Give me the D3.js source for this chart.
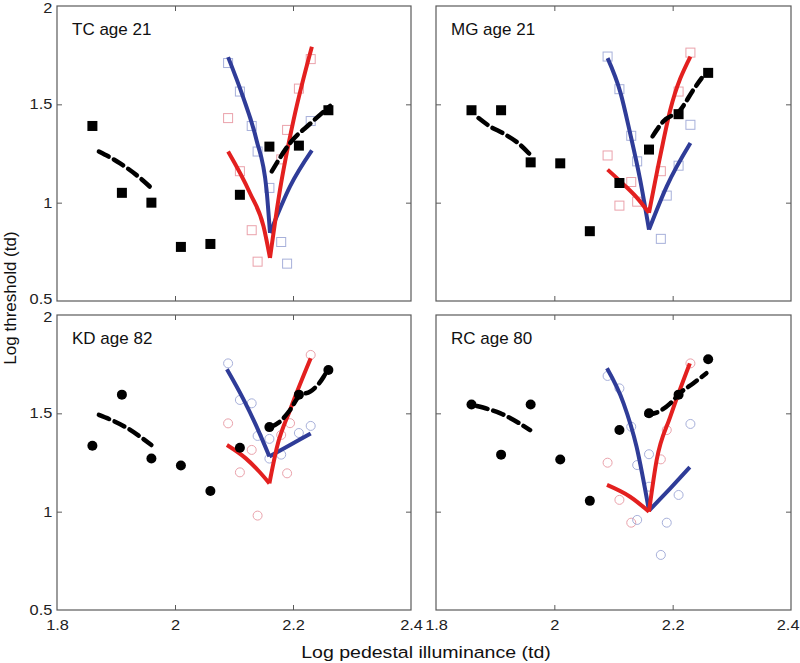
<!DOCTYPE html>
<html>
<head>
<meta charset="utf-8">
<script src="https://cdn.jsdelivr.net/npm/d3@7"></script>
<style>
  body { margin: 0; background: #fff; }
  svg { display: block; font-family: "Liberation Sans", Arial, sans-serif; }
</style>
</head>
<body>
<svg id="chart" width="800" height="663"></svg>
<script>
// ---------------- DATA ----------------
const subjects = ["TC age 21", "MG age 21", "KD age 82", "RC age 80"];
const markerShape = ["square", "square", "circle", "circle"];
const pedestal = [1.86, 1.91, 1.96, 2.01, 2.06, 2.11, 2.16, 2.21, 2.26];
const xTicks = [1.8, 2, 2.2, 2.4];
const yTicks = [0.5, 1, 1.5, 2];

// black (filled) thresholds
const tcBlack = [1.39, 1.05, 1.0, 0.775, 0.79, 1.04, 1.285, 1.29, 1.47];
const mgBlack = [1.47, 1.47, 1.205, 1.20, 0.855, 1.10, 1.27, 1.45, 1.66];
const kdBlack = [1.335, 1.595, 1.27, 1.235, 1.105, 1.325, 1.43, 1.595, 1.72];
const rcBlack = [1.545, 1.29, 1.545, 1.265, 1.055, 1.415, 1.50, 1.595, 1.775];

// dashed fits (left and right segments)
const tcDashL = {x: [1.871, 1.907, 1.941, 1.964], y: [1.26, 1.20, 1.125, 1.063]};
const tcDashR = {x: [2.164, 2.195, 2.23, 2.263], y: [1.159, 1.303, 1.404, 1.492]};
const mgDashL = {x: [1.872, 1.89, 1.915, 1.94, 1.962], y: [1.43, 1.39, 1.35, 1.30, 1.235]};
const mgDashR = {x: [2.166, 2.184, 2.213, 2.235, 2.249], y: [1.337, 1.413, 1.472, 1.574, 1.633]};
const kdDashL = {x: [1.871, 1.915, 1.96], y: [1.492, 1.432, 1.339]};
const kdDashR = {x: [2.161, 2.178, 2.195, 2.212, 2.229, 2.252, 2.26], y: [1.429, 1.458, 1.517, 1.593, 1.61, 1.686, 1.729]};
const rcDashL = {x: [1.869, 1.909, 1.959], y: [1.537, 1.50, 1.415]};
const rcDashR = {x: [2.156, 2.176, 2.196, 2.212, 2.235, 2.257], y: [1.492, 1.508, 1.551, 1.602, 1.653, 1.704]};

// blue model curves (left branch, right branch)
const tcBlueL = {x: [2.09, 2.115, 2.138, 2.155, 2.161], y: [1.74, 1.54, 1.32, 1.07, 0.846]};
const tcBlueR = {x: [2.161, 2.195, 2.232], y: [0.846, 1.083, 1.266]};
const mgBlueL = {x: [2.09, 2.112, 2.128, 2.145, 2.16], y: [1.735, 1.557, 1.354, 1.117, 0.863]};
const mgBlueR = {x: [2.16, 2.19, 2.23], y: [0.863, 1.083, 1.303]};
const kdBlueL = {x: [2.088, 2.115, 2.137, 2.16], y: [1.724, 1.577, 1.441, 1.28]};
const kdBlueR = {x: [2.16, 2.195, 2.23], y: [1.28, 1.339, 1.398]};
const rcBlueL = {x: [2.089, 2.117, 2.139, 2.16], y: [1.729, 1.551, 1.33, 1.005]};
const rcBlueR = {x: [2.16, 2.196, 2.229], y: [1.005, 1.119, 1.226]};

// red model curves (left branch, right branch)
const tcRedL = {x: [2.09, 2.127, 2.15, 2.161], y: [1.26, 1.049, 0.88, 0.719]};
const tcRedR = {x: [2.161, 2.178, 2.201, 2.232], y: [0.719, 1.066, 1.421, 1.793]};
const mgRedL = {x: [2.09, 2.117, 2.142, 2.16], y: [1.168, 1.093, 1.017, 0.948]};
const mgRedR = {x: [2.16, 2.18, 2.196, 2.23], y: [0.948, 1.252, 1.472, 1.743]};
const kdRedL = {x: [2.088, 2.12, 2.143, 2.16], y: [1.339, 1.271, 1.203, 1.144]};
const kdRedR = {x: [2.16, 2.173, 2.195, 2.23], y: [1.144, 1.33, 1.517, 1.78]};
const rcRedL = {x: [2.089, 2.128, 2.16], y: [1.136, 1.076, 1.0]};
const rcRedR = {x: [2.16, 2.173, 2.196, 2.229], y: [1.0, 1.263, 1.483, 1.754]};

// open (light) data points
const tcPink = {x: [2.09, 2.11, 2.13, 2.14, 2.18, 2.19, 2.21, 2.23], y: [1.43, 1.16, 0.86, 0.70, 1.22, 1.37, 1.58, 1.73]};
const tcLightBlue = {x: [2.09, 2.11, 2.13, 2.14, 2.16, 2.18, 2.19, 2.23], y: [1.71, 1.565, 1.39, 1.26, 1.075, 0.80, 0.69, 1.415]};
const mgPink = {x: [2.09, 2.11, 2.13, 2.14, 2.18, 2.21, 2.23], y: [1.24, 0.985, 1.105, 1.005, 1.16, 1.565, 1.763]};
const mgLightBlue = {x: [2.09, 2.11, 2.13, 2.14, 2.18, 2.19, 2.21, 2.23], y: [1.743, 1.577, 1.34, 1.21, 0.816, 1.036, 1.188, 1.396]};
const kdPink = {x: [2.09, 2.11, 2.13, 2.14, 2.18, 2.19, 2.195, 2.23], y: [1.449, 1.20, 1.314, 0.98, 1.39, 1.195, 1.45, 1.797]};
const kdLightBlue = {x: [2.09, 2.11, 2.13, 2.14, 2.16, 2.16, 2.18, 2.21, 2.23], y: [1.754, 1.568, 1.551, 1.385, 1.37, 1.27, 1.29, 1.40, 1.436]};
const rcPink = {x: [2.09, 2.11, 2.13, 2.18, 2.19, 2.23], y: [1.249, 1.06, 0.944, 1.266, 1.415, 1.754]};
const rcLightBlue = {x: [2.09, 2.11, 2.13, 2.14, 2.16, 2.16, 2.14, 2.19, 2.18, 2.21, 2.23], y: [1.69, 1.627, 1.432, 1.237, 1.292, 1.127, 0.958, 0.944, 0.78, 1.085, 1.446]};

const panelData = [
  {black: tcBlack, dash: [tcDashL, tcDashR], blue: [tcBlueL, tcBlueR], red: [tcRedL, tcRedR], pink: tcPink, lblue: tcLightBlue},
  {black: mgBlack, dash: [mgDashL, mgDashR], blue: [mgBlueL, mgBlueR], red: [mgRedL, mgRedR], pink: mgPink, lblue: mgLightBlue},
  {black: kdBlack, dash: [kdDashL, kdDashR], blue: [kdBlueL, kdBlueR], red: [kdRedL, kdRedR], pink: kdPink, lblue: kdLightBlue},
  {black: rcBlack, dash: [rcDashL, rcDashR], blue: [rcBlueL, rcBlueR], red: [rcRedL, rcRedR], pink: rcPink, lblue: rcLightBlue}
];

// ---------------- LAYOUT ----------------
const cols = [[57, 411], [436, 791]];
const rows = [[6, 301], [315, 610]];
const frameColor = "#5a5a5a";
const redColor = "#e3201f";
const blueColor = "#2f3c98";
const pinkColor = "#eaa2ab";
const lightBlueColor = "#a7b0da";
const tickFont = 14, tickStretch = 1.17;

const svg = d3.select("#chart");

const toPts = s => s.x.map((v, i) => [v, s.y[i]]);

subjects.forEach((name, idx) => {
  const c = idx % 2, r = Math.floor(idx / 2);
  const x = d3.scaleLinear().domain([1.8, 2.4]).range(cols[c]);
  const y = d3.scaleLinear().domain([0.5, 2]).range([rows[r][1], rows[r][0]]);
  const d = panelData[idx];
  const g = svg.append("g");
  const W = cols[c][1] - cols[c][0], H = rows[r][1] - rows[r][0];

  // inward ticks
  const tickLen = 5;
  g.append("g").attr("transform", `translate(0,${rows[r][1]})`)
    .call(d3.axisBottom(x).tickValues([2, 2.2]).tickSize(-tickLen).tickFormat(""));
  g.append("g").attr("transform", `translate(0,${rows[r][0]})`)
    .call(d3.axisTop(x).tickValues([2, 2.2]).tickSize(-tickLen).tickFormat(""));
  g.append("g").attr("transform", `translate(${cols[c][0]},0)`)
    .call(d3.axisLeft(y).tickValues([1, 1.5]).tickSize(-tickLen).tickFormat(""));
  g.append("g").attr("transform", `translate(${cols[c][1]},0)`)
    .call(d3.axisRight(y).tickValues([1, 1.5]).tickSize(-tickLen).tickFormat(""));
  g.selectAll(".domain").remove();
  g.selectAll(".tick line").attr("stroke", frameColor).attr("stroke-width", 1);

  // tick labels
  if (r === 1) {
    const ax = g.append("g").attr("transform", `translate(0,${rows[r][1]})`)
      .call(d3.axisBottom(x).tickValues(xTicks).tickSize(0).tickPadding(10).tickFormat(v => String(v)));
    ax.select(".domain").remove();
    ax.selectAll("text").attr("font-size", tickFont).attr("fill", "#222")
      .attr("font-family", '"Liberation Sans", Arial, sans-serif')
      .attr("transform", `scale(${tickStretch},1)`);
    if (c === 1) {
      // last label of right panel sits at the page edge
      ax.selectAll(".tick").filter(v => v === 2.4).select("text")
        .attr("text-anchor", "end").attr("x", (799 - cols[c][1]) / tickStretch);
    }
  }
  if (c === 0) {
    const ay = g.append("g").attr("transform", `translate(${cols[c][0]},0)`)
      .call(d3.axisLeft(y).tickValues(yTicks).tickSize(0).tickPadding(4).tickFormat(v => String(v)));
    ay.select(".domain").remove();
    ay.selectAll("text").attr("font-size", tickFont).attr("fill", "#222")
      .attr("font-family", '"Liberation Sans", Arial, sans-serif')
      .attr("transform", `scale(${tickStretch},1)`);
    // nudge edge labels apart so neighbouring panels' labels don't collide
    ay.selectAll(".tick").filter(v => v === 2).select("text").attr("y", r === 0 ? 2 : 2);
    ay.selectAll(".tick").filter(v => v === 0.5).select("text").attr("y", r === 0 ? -2 : 0);
  }

  // frame
  g.append("rect").attr("x", cols[c][0]).attr("y", rows[r][0])
    .attr("width", W).attr("height", H)
    .attr("fill", "none").attr("stroke", frameColor).attr("stroke-width", 1.2);

  // open markers
  const openSize = 9;
  const drawOpen = (s, color) => {
    const pts = toPts(s);
    if (markerShape[idx] === "square") {
      g.selectAll(null).data(pts).enter().append("rect")
        .attr("x", p => x(p[0]) - openSize / 2).attr("y", p => y(p[1]) - openSize / 2)
        .attr("width", openSize).attr("height", openSize)
        .attr("fill", "none").attr("stroke", color).attr("stroke-width", 1);
    } else {
      g.selectAll(null).data(pts).enter().append("circle")
        .attr("cx", p => x(p[0])).attr("cy", p => y(p[1])).attr("r", openSize / 2)
        .attr("fill", "none").attr("stroke", color).attr("stroke-width", 1);
    }
  };
  drawOpen(d.pink, pinkColor);
  drawOpen(d.lblue, lightBlueColor);

  const line = d3.line().x(p => x(p[0])).y(p => y(p[1])).curve(d3.curveMonotoneX);

  // model curves
  d.blue.forEach(s => g.append("path").attr("d", line(toPts(s)))
    .attr("fill", "none").attr("stroke", blueColor).attr("stroke-width", 4).attr("stroke-linejoin", "miter"));
  d.red.forEach(s => g.append("path").attr("d", line(toPts(s)))
    .attr("fill", "none").attr("stroke", redColor).attr("stroke-width", 4).attr("stroke-linejoin", "miter"));

  // dashed fits
  d.dash.forEach(s => g.append("path").attr("d", line(toPts(s)))
    .attr("fill", "none").attr("stroke", "#000").attr("stroke-width", 4.5)
    .attr("stroke-dasharray", "11,6").attr("stroke-linecap", "round"));

  // filled markers
  const bpts = pedestal.map((v, i) => [v, d.black[i]]);
  const fs = 10;
  if (markerShape[idx] === "square") {
    g.selectAll(null).data(bpts).enter().append("rect")
      .attr("x", p => x(p[0]) - fs / 2).attr("y", p => y(p[1]) - fs / 2)
      .attr("width", fs).attr("height", fs).attr("fill", "#000");
  } else {
    g.selectAll(null).data(bpts).enter().append("circle")
      .attr("cx", p => x(p[0])).attr("cy", p => y(p[1])).attr("r", fs / 2).attr("fill", "#000");
  }

  // subject label
  g.append("text").attr("x", cols[c][0] + 15).attr("y", rows[r][0] + 29)
    .attr("font-size", 17).attr("fill", "#111").text(name);
});

// axis titles
svg.append("text").attr("transform", "translate(426,658) scale(1.15,1)").attr("text-anchor", "middle")
  .attr("font-size", 17).attr("fill", "#111").text("Log pedestal illuminance (td)");
svg.append("text").attr("transform", "translate(16,298) rotate(-90)").attr("text-anchor", "middle")
  .attr("font-size", 17).attr("fill", "#111").text("Log threshold (td)");
</script>
</body>
</html>
